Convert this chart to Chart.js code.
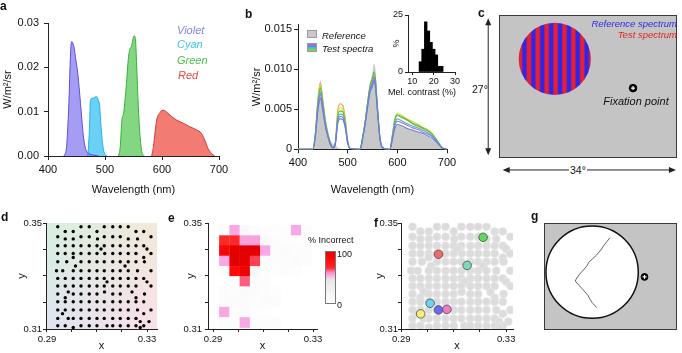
<!DOCTYPE html>
<html>
<head>
<meta charset="UTF-8">
<title>Spectra and discrimination</title>
<script src="https://cdn.jsdelivr.net/npm/chart.js"></script>
<style>
  body { margin: 0; width: 682px; height: 353px; background: #fff; position: relative; overflow: hidden;
         font-family: "Liberation Sans", Arial, Helvetica, sans-serif; color: #111; }
  canvas { position: absolute; }
  .t { position: absolute; white-space: nowrap; }
  .let { font-size: 12px; line-height: 12px; font-weight: bold; }
  .la { font-size: 11px; line-height: 13px; font-style: italic; }
  .lb { font-size: 9.5px; line-height: 11px; font-style: italic; }
  .sm { font-size: 9px; line-height: 10.5px; }
  .lc { font-size: 9.5px; line-height: 12px; font-style: italic; }
  .box { position: absolute; width: 10px; border: 1px solid #999; box-sizing: border-box; }
</style>
</head>
<body>
<canvas id="cA" width="232" height="205" style="left:0;top:0"></canvas>
<canvas id="cB" width="220" height="205" style="left:240px;top:0"></canvas>
<canvas id="cH" width="80" height="80" style="left:385px;top:5px"></canvas>
<canvas id="cC" width="220" height="180" style="left:462px;top:0"></canvas>
<canvas id="cD" width="170" height="148" style="left:0;top:205px"></canvas>
<canvas id="cE" width="185" height="148" style="left:170px;top:205px"></canvas>
<canvas id="cF" width="170" height="148" style="left:355px;top:205px"></canvas>
<canvas id="cG" width="152" height="125" style="left:530px;top:215px"></canvas>

<!-- panel letters -->
<div class="t let" style="left:0;top:0">a</div>
<div class="t let" style="left:245px;top:8px">b</div>
<div class="t let" style="left:478px;top:7px">c</div>
<div class="t let" style="left:1px;top:211px">d</div>
<div class="t let" style="left:168px;top:212px">e</div>
<div class="t let" style="left:374px;top:217px">f</div>
<div class="t let" style="left:531px;top:210px">g</div>

<!-- a legend -->
<div class="t la" style="left:177px;top:24px;color:#8682e6">Violet</div>
<div class="t la" style="left:177px;top:38px;color:#3cc6ef">Cyan</div>
<div class="t la" style="left:177px;top:54px;color:#4cc24c">Green</div>
<div class="t la" style="left:178px;top:68.5px;color:#e64545">Red</div>

<!-- b legend -->
<div class="box" style="left:307px;top:30px;height:8px;background:#c8c8c8"></div>
<div class="box" style="left:307px;top:43px;height:9px;background:linear-gradient(#c25ee0,#5a86ea 35%,#3fc8e0 55%,#5ed35e 75%,#f0a838)"></div>
<div class="t lb" style="left:322px;top:29.5px">Reference</div>
<div class="t lb" style="left:322px;top:43px">Test spectra</div>
<div class="t sm" style="left:388px;top:86.5px">Mel. contrast (%)</div>

<!-- c labels -->
<div class="t lc" style="right:5px;top:18.3px;color:#2b2be6">Reference spectrum</div>
<div class="t lc" style="right:5px;top:29.3px;color:#e52222">Test spectrum</div>
<div class="t la" style="left:603px;top:94.5px;width:66px;text-align:center">Fixation point</div>
<div class="t" style="left:472px;top:83px;font-size:10.5px;line-height:12px">27°</div>
<div class="t" style="left:569px;top:163.5px;font-size:10.5px;line-height:12px;background:#fff;padding:0 1px">34°</div>

<!-- e colour bar labels -->
<div class="t sm" style="left:308px;top:235px">% Incorrect</div>
<div class="t sm" style="left:337px;top:249px">100</div>
<div class="t sm" style="left:337px;top:299.5px">0</div>

<script>
// ---------- panel a : primaries (W/m2/sr) ----------
const violetWl  = [428, 432.6, 436.6, 439.5, 441.3, 445.3, 448.8, 452.3, 457, 461.6, 465.7, 471.5, 480, 489];
const violetVal = [0, 0.0021, 0.0119, 0.023, 0.0258, 0.0247, 0.0217, 0.0186, 0.0119, 0.0051, 0.0017, 0.0006, 0.0002, 0];
const cyanWl    = [468.6, 471, 473.3, 474.4, 477.3, 481.4, 484.9, 487.2, 490.7, 493, 496.5, 500.6, 503.5];
const cyanVal   = [0, 0.002, 0.0081, 0.0126, 0.013, 0.0132, 0.0134, 0.013, 0.0111, 0.0066, 0.0021, 0.0002, 0];
const greenWl   = [523.8, 526.7, 529.7, 532.6, 537.2, 541.3, 544.2, 546.5, 548.8, 551.2, 553.5, 555.8, 558.7, 561.6, 564.5, 568.6];
const greenVal  = [0, 0.0021, 0.0081, 0.0096, 0.0156, 0.0224, 0.0243, 0.0247, 0.0262, 0.0271, 0.0262, 0.0194, 0.0104, 0.0044, 0.001, 0];
const redWl     = [582, 584.9, 590.7, 596.5, 600, 604, 608.1, 616.9, 625.6, 637.2, 648.8, 660.5, 669.2, 675, 680.8, 686.6, 692.4];
const redVal    = [0, 0.0021, 0.0081, 0.0098, 0.0103, 0.0103, 0.0099, 0.0089, 0.0081, 0.0074, 0.0066, 0.0059, 0.0051, 0.0036, 0.0017, 0.0006, 0];

// ---------- panel b : reference + test spectra ----------
const bWl = [400,430,435,440,445,450,455,460,465,470,475,480,485,490,495,500,505,520,525,530,535,540,545,550,553,556,560,565,570,580,585,590,595,600,610,620,630,640,650,660,670,680,690,700];
const refSpec = [0,0,.0022,.0062,.0086,.0064,.0040,.0023,.0012,.0007,.0005,.0002,.0001,0,0,0,0,0,0,.0016,.0038,.0063,.0082,.0096,.0107,.0100,.0062,.0018,.0003,0,0,.0012,.0025,.0030,.0028,.0026,.0024,.0022,.0019,.0016,.0013,.0007,.0002,0];
const testOrange = [0,0,.0021,.0062,.0083,.0062,.0037,.0021,.0008,.0002,.0009,.0048,.0057,.0055,.0040,.0011,.0001,0,0,.0014,.0033,.0056,.0076,.0086,.0093,.0084,.0051,.0014,.0002,0,0,.0017,.0036,.0042,.0039,.0036,.0032,.0029,.0026,.0023,.0019,.0011,.0002,0];
const testYellow = [0,0,.0020,.0061,.0081,.0061,.0036,.0020,.0008,.0002,.0008,.0044,.0052,.0050,.0036,.0010,.0001,0,0,.0014,.0033,.0057,.0078,.0087,.0095,.0086,.0052,.0014,.0002,0,0,.0018,.0038,.0045,.0042,.0038,.0035,.0032,.0028,.0025,.0020,.0011,.0002,0];
const testGreen  = [0,0,.0019,.0058,.0077,.0058,.0035,.0019,.0008,.0002,.0007,.0041,.0048,.0047,.0034,.0010,.0001,0,0,.0015,.0034,.0058,.0080,.0089,.0097,.0087,.0053,.0015,.0002,0,0,.0017,.0037,.0043,.0040,.0037,.0033,.0030,.0027,.0024,.0019,.0011,.0002,0];
const testCyan   = [0,0,.0018,.0054,.0072,.0054,.0032,.0018,.0007,.0002,.0007,.0037,.0044,.0043,.0031,.0009,.0001,0,0,.0013,.0031,.0053,.0072,.0081,.0088,.0079,.0048,.0013,.0002,0,0,.0015,.0032,.0038,.0035,.0032,.0029,.0027,.0024,.0021,.0017,.0010,.0002,0];
const testPurple = [0,0,.0017,.0052,.0069,.0052,.0031,.0017,.0007,.0002,.0006,.0035,.0041,.0040,.0029,.0008,.0001,0,0,.0014,.0032,.0055,.0075,.0084,.0091,.0082,.0050,.0014,.0002,0,0,.0014,.0030,.0035,.0033,.0030,.0027,.0025,.0022,.0019,.0016,.0009,.0002,0];
const testBlue   = [0,0,.0016,.0048,.0064,.0048,.0029,.0016,.0006,.0002,.0006,.0032,.0038,.0037,.0027,.0008,.0001,0,0,.0013,.0030,.0052,.0071,.0079,.0086,.0077,.0047,.0013,.0002,0,0,.0012,.0026,.0031,.0029,.0026,.0024,.0022,.0020,.0017,.0014,.0008,.0002,0];

// inset histogram of melanopsin contrast
const histCenter = [13.8, 15.05, 16.3, 17.55, 18.8, 20.05, 21.3, 22.55, 23.8];
const histPct    = [4.5, 10, 22, 18, 13, 10, 7.5, 2.5, 2.5];

// ---------- panel c / g : stimulus geometry (degrees) ----------
const fixC = [25.6, 13.2];
const fixG = [25.7, 13.4];
const gPathX = [16.88, 16.2, 15.37, 14.53, 13.43, 12.27, 11.42, 11.0, 10.08, 9.07, 8.23, 7.98, 8.9, 9.9, 11.17, 11.75, 12.43, 13.1, 13.43];
const gPathY = [23.29, 22.45, 21.44, 20.18, 18.92, 17.83, 17.07, 16.22, 15.13, 14.04, 12.86, 12.35, 11.34, 10.25, 8.82, 7.81, 6.72, 6.12, 5.61];

// ---------- panel d / f : test chromaticities ----------
const dotRowY = [0.3486, 0.3468, 0.3448, 0.3440, 0.3414, 0.3402, 0.3385, 0.3370, 0.3354, 0.3338, 0.3320, 0.3291,
                 0.3278, 0.3262, 0.3240, 0.3232, 0.3218, 0.3203, 0.3172, 0.3158, 0.3140, 0.3128, 0.3112, 0.3106];
const dotRowX = [
  [0.2943, 0.3036, 0.3069, 0.3129, 0.3163, 0.3193, 0.3225],
  [0.2973, 0.3005, 0.3100, 0.3256, 0.3287],
  [0.2943, 0.3036, 0.3069, 0.3129, 0.3163, 0.3193, 0.3316],
  [0.2973, 0.3005, 0.3102, 0.3225, 0.3262],
  [0.2943, 0.2973, 0.3005, 0.3036, 0.3069, 0.3100, 0.3129, 0.3163, 0.3193, 0.3225, 0.3256, 0.3287],
  [0.3116, 0.3300],
  [0.2943, 0.2973, 0.3005, 0.3036, 0.3069, 0.3100, 0.3131, 0.3163, 0.3193, 0.3225, 0.3256, 0.3316],
  [0.3005, 0.3287],
  [0.2943, 0.2979, 0.3036, 0.3069, 0.3100, 0.3129, 0.3163, 0.3193, 0.3225, 0.3256, 0.3290],
  [0.3014, 0.3212],
  [0.2938, 0.2963, 0.3005, 0.3036, 0.3069, 0.3100, 0.3129, 0.3163, 0.3193, 0.3225, 0.3262, 0.3316],
  [0.2943, 0.2973, 0.3005, 0.3036, 0.3069, 0.3100, 0.3129, 0.3163, 0.3193, 0.3225, 0.3256, 0.3287],
  [0.3140, 0.3300],
  [0.2943, 0.2973, 0.3005, 0.3036, 0.3069, 0.3100, 0.3129, 0.3163, 0.3193, 0.3225, 0.3256, 0.3316],
  [0.2985, 0.3130, 0.3240],
  [0.2943, 0.3005, 0.3036, 0.3069, 0.3100, 0.3163, 0.3193, 0.3290],
  [0.2973, 0.3256],
  [0.2943, 0.2973, 0.3005, 0.3036, 0.3069, 0.3100, 0.3129, 0.3163, 0.3193, 0.3225, 0.3256, 0.3287],
  [0.2943, 0.2973, 0.3005, 0.3036, 0.3069, 0.3100, 0.3129, 0.3163, 0.3193, 0.3225, 0.3262, 0.3316],
  [0.2962, 0.3287],
  [0.2943, 0.2985, 0.3005, 0.3036, 0.3069, 0.3100, 0.3129, 0.3163, 0.3193, 0.3225, 0.3256],
  [0.3273, 0.3308],
  [0.2943, 0.2973, 0.3036, 0.3069, 0.3100, 0.3140, 0.3163, 0.3193, 0.3225, 0.3256, 0.3287],
  [0.3005, 0.3273]
];

// ---------- panel e : % incorrect per chromaticity bin ----------
const heatX = [0.2945, 0.2986, 0.3027, 0.3068, 0.3109, 0.3150, 0.3191, 0.3232, 0.3273];
const heatY = [0.3473, 0.3434, 0.3396, 0.3357, 0.3318, 0.3280, 0.3241, 0.3203, 0.3164, 0.3125];
const heatPct = [
  [6, 55, 14, 6, 4, 4, 4, 55, 6],
  [68, 68, 56, 56, 10, 5, 4, 3, 3],
  [90, 100, 100, 100, 55, 6, 8, 5, 5],
  [55, 100, 100, 66, 8, 5, 5, 8, 5],
  [5, 85, 95, 15, 5, 3, 5, 3, 0],
  [0, 5, 64, 5, 5, 0, 0, 0, 0],
  [8, 5, 10, 8, 5, 3, 0, 0, 0],
  [8, 8, 8, 5, 8, 5, 0, 0, 0],
  [55, 5, 8, 3, 3, 0, 0, 0, 0],
  [6, 5, 55, 5, 5, 5, 0, 0, 0]
];

// ---------- panel f : highlighted tests ----------
const pickX = [0.3212, 0.3042, 0.3151, 0.3010, 0.3042, 0.3074, 0.2974];
const pickY = [0.3446, 0.3382, 0.3340, 0.3197, 0.3172, 0.3174, 0.3157];
const pickColor = ['#62d862', '#f06a6a', '#80d8b9', '#6cd4f2', '#6a6af0', '#f07ac6', '#f4ee78'];

// ---------- common bits ----------
Chart.defaults.font.family = '"Liberation Sans", Arial, Helvetica, sans-serif';
Chart.defaults.color = '#111';

const base = (pad) => ({
  responsive: false, animation: false, devicePixelRatio: 1, events: [],
  layout: { padding: pad },
  plugins: { legend: { display: false }, tooltip: { enabled: false } }
});

function axis(o) {
  const horiz = o.pos === 'bottom';
  return {
    type: 'linear', position: o.pos, min: o.min, max: o.max, offset: false,
    grid: { display: true, offset: false, drawOnChartArea: false, drawTicks: true, tickLength: o.tl || 4, tickColor: '#222', tickWidth: 1 },
    border: { display: true, color: '#222', width: 1 },
    ticks: { autoSkip: false, maxRotation: 0, padding: o.pad ?? 2, color: '#111', font: { size: o.fs || 11 },
             callback: (v) => { const i = o.ticks.indexOf(v); return i < 0 ? '' : o.labels[i]; } },
    title: { display: !!o.title, text: o.title || '', color: '#111', font: { size: o.tfs || 11 }, padding: o.tpad || 0 },
    afterBuildTicks: (s) => { s.ticks = o.ticks.map(v => ({ value: v })); },
    afterFit: (s) => {
      if (horiz) s.height = o.size; else s.width = o.size;
      s.paddingLeft = s.paddingRight = s.paddingTop = s.paddingBottom = 0;
    }
  };
}

const hidden = (min, max) => ({ type: 'linear', display: false, min: min, max: max });

function band(xs, ys, fill, line) {
  return { data: xs.map((x, i) => ({ x: x, y: ys[i] })), fill: 'origin', backgroundColor: fill,
           borderColor: line, borderWidth: 1, pointRadius: 0, cubicInterpolationMode: 'monotone' };
}
function specLine(ys, col) {
  return { data: bWl.map((x, i) => ({ x: x, y: ys[i] })), fill: false, borderColor: col,
           borderWidth: 1.1, pointRadius: 0, cubicInterpolationMode: 'monotone', order: 1 };
}

// colour map used for the % incorrect cells and the bar
const cmapStops = [[0, [255,255,255]], [45, [232,232,232]], [55, [248,168,228]], [62, [250,118,168]],
                   [68, [255,40,40]], [85, [255,10,10]], [100, [228,0,0]]];
function pctColor(v) {
  for (let i = 1; i < cmapStops.length; i++) {
    const [v1, c1] = cmapStops[i], [v0, c0] = cmapStops[i - 1];
    if (v <= v1) {
      const f = (v - v0) / (v1 - v0);
      return 'rgb(' + c0.map((c, k) => Math.round(c + f * (c1[k] - c))).join(',') + ')';
    }
  }
  return 'rgb(228,0,0)';
}

// white cross on fixation markers
const fixPlugin = {
  id: 'fixMark',
  afterDatasetsDraw(chart) {
    const ctx = chart.ctx;
    chart.data.datasets.forEach((ds, i) => {
      if (!ds.fixMark) return;
      const p = chart.getDatasetMeta(i).data[0];
      ctx.save();
      ctx.strokeStyle = '#fff'; ctx.lineWidth = 1.2;
      ctx.beginPath();
      ctx.moveTo(p.x - 2, p.y); ctx.lineTo(p.x + 2, p.y);
      ctx.moveTo(p.x, p.y - 2); ctx.lineTo(p.x, p.y + 2);
      ctx.stroke();
      ctx.restore();
    });
  }
};

// grey screen, stimulus disc and arrows
const stimPlugin = {
  id: 'stim',
  beforeDatasetsDraw(chart, args, o) {
    const { ctx, chartArea: a, scales: { x, y } } = chart;
    ctx.save();
    ctx.fillStyle = '#c4c4c4';
    ctx.fillRect(a.left, a.top, a.width, a.height);
    ctx.strokeStyle = '#3a3a3a'; ctx.lineWidth = 1;
    ctx.strokeRect(a.left + 0.5, a.top + 0.5, a.width - 1, a.height - 1);

    const cx = x.getPixelForValue(o.disc[0]), cy = y.getPixelForValue(o.disc[1]);
    const r = x.getPixelForValue(o.disc[0] + o.disc[2]) - cx;
    ctx.beginPath(); ctx.arc(cx, cy, r, 0, Math.PI * 2);
    if (o.stripes) {
      const per = x.getPixelForValue(o.stripes) - x.getPixelForValue(0);
      const g = ctx.createLinearGradient(cx - r, 0, cx + r, 0);
      const n = 2 * r / per;
      for (let k = 0; k < n; k++) {
        const s = (t) => Math.min(1, (k + t) / n);
        g.addColorStop(s(0), '#ea1e2e'); g.addColorStop(s(0.3), '#ea1e2e');
        g.addColorStop(s(0.5), '#2c28ea'); g.addColorStop(s(0.8), '#2c28ea');
      }
      ctx.fillStyle = g; ctx.fill();
    } else {
      ctx.fillStyle = '#fff'; ctx.fill();
      ctx.strokeStyle = '#111'; ctx.lineWidth = 1.5; ctx.stroke();
    }

    if (o.arrows) {
      ctx.strokeStyle = '#222'; ctx.fillStyle = '#222'; ctx.lineWidth = 1;
      const head = (px, py, dx, dy) => {
        ctx.beginPath();
        ctx.moveTo(px, py);
        ctx.lineTo(px - dx * 7 - dy * 3, py - dy * 7 - dx * 3);
        ctx.lineTo(px - dx * 7 + dy * 3, py - dy * 7 + dx * 3);
        ctx.closePath(); ctx.fill();
      };
      const vx = x.getPixelForValue(o.arrows.vx);
      const vt = y.getPixelForValue(o.arrows.v1), vb = y.getPixelForValue(o.arrows.v0);
      ctx.beginPath(); ctx.moveTo(vx, vt + 4); ctx.lineTo(vx, vb - 4); ctx.stroke();
      head(vx, vt, 0, -1); head(vx, vb, 0, 1);
      const hy = y.getPixelForValue(o.arrows.hy);
      const hl = x.getPixelForValue(o.arrows.h0), hr = x.getPixelForValue(o.arrows.h1);
      ctx.beginPath(); ctx.moveTo(hl + 4, hy); ctx.lineTo(hr - 4, hy); ctx.stroke();
      head(hl, hy, -1, 0); head(hr, hy, 1, 0);
    }
    ctx.restore();
  }
};

// chromaticity background for d
const bgPlugin = {
  id: 'chromBg',
  beforeDraw(chart, args, o) {
    const a = chart.chartArea;
    const off = document.createElement('canvas');
    off.width = 2; off.height = 2;
    const c = off.getContext('2d');
    const img = c.createImageData(2, 2);
    [o.tl, o.tr, o.bl, o.br].forEach((col, i) => img.data.set([col[0], col[1], col[2], 255], i * 4));
    c.putImageData(img, 0, 0);
    chart.ctx.save();
    chart.ctx.imageSmoothingEnabled = true;
    chart.ctx.drawImage(off, 0.5, 0.5, 1, 1, a.left, a.top, a.width, a.height);
    chart.ctx.restore();
  }
};

// heat cells + colour bar for e
const heatPlugin = {
  id: 'heat',
  beforeDraw(chart, args, o) {
    const { ctx, scales: { x, y } } = chart;
    const hw = (heatX[1] - heatX[0]) / 2, hh = (heatY[0] - heatY[1]) / 2;
    ctx.save();
    heatPct.forEach((row, r) => row.forEach((v, c) => {
      if (v <= 0) return;
      const x0 = x.getPixelForValue(heatX[c] - hw), x1 = x.getPixelForValue(heatX[c] + hw);
      const y0 = y.getPixelForValue(heatY[r] + hh), y1 = y.getPixelForValue(heatY[r] - hh);
      ctx.fillStyle = pctColor(v);
      ctx.fillRect(x0, y0, x1 - x0 + 0.3, y1 - y0 + 0.3);
    }));
    // colour bar
    const b = o.bar;
    const g = ctx.createLinearGradient(0, b.y + b.h, 0, b.y);
    for (let v = 0; v <= 100; v += 2) g.addColorStop(v / 100, pctColor(v));
    ctx.fillStyle = g;
    ctx.fillRect(b.x, b.y, b.w, b.h);
    ctx.strokeStyle = '#777'; ctx.lineWidth = 1;
    ctx.strokeRect(b.x + 0.5, b.y + 0.5, b.w - 1, b.h - 1);
    ctx.restore();
  }
};

const xyTicksX = [0.29, 0.30, 0.31, 0.32, 0.33], xyLabX = ['0.29', '', '', '', '0.33'];
const xyTicksY = [0.31, 0.32, 0.33, 0.34, 0.35], xyLabY = ['0.31', '', '', '', '0.35'];
const dotPoints = dotRowY.flatMap((yv, i) => dotRowX[i].map(xv => ({ x: xv, y: yv })));

// ---------- a ----------
new Chart(document.getElementById('cA'), {
  type: 'line',
  data: { datasets: [
    band(violetWl, violetVal, 'rgba(125,115,238,0.7)', '#5a4fd9'),
    band(cyanWl, cyanVal, 'rgba(80,200,245,0.85)', '#1cb0e6'),
    band(greenWl, greenVal, 'rgba(100,205,100,0.8)', '#34b034'),
    band(redWl, redVal, 'rgba(240,100,90,0.85)', '#d63838')
  ] },
  options: Object.assign(base({ top: 23, right: 13, left: 0, bottom: 0 }), {
    scales: {
      x: axis({ pos: 'bottom', min: 400, max: 700, ticks: [400, 500, 600, 700], labels: ['400', '500', '600', '700'],
                size: 49, pad: 3, title: 'Wavelength (nm)', tpad: { top: 0, bottom: 8 } }),
      y: axis({ pos: 'left', min: 0, max: 0.03, ticks: [0, 0.01, 0.02, 0.03], labels: ['0.00', '0.01', '0.02', '0.03'],
                size: 48, pad: 5, title: 'W/m²/sr', tpad: { top: 1, bottom: 0 } })
    }
  })
});

// ---------- b ----------
new Chart(document.getElementById('cB'), {
  type: 'line',
  data: { datasets: [
    specLine(testBlue, '#5a84d8'),
    specLine(testPurple, '#b466e0'),
    specLine(testCyan, '#2fbfd6'),
    specLine(testGreen, '#45c245'),
    specLine(testYellow, '#d9d935'),
    specLine(testOrange, '#eea03a'),
    { data: bWl.map((x, i) => ({ x: x, y: refSpec[i] })), fill: 'origin', backgroundColor: '#c8c8c8',
      borderColor: 'rgba(0,0,0,0)', borderWidth: 0, pointRadius: 0, cubicInterpolationMode: 'monotone', order: 5 }
  ] },
  options: Object.assign(base({ top: 24.5, right: 13, left: 0, bottom: 0 }), {
    scales: {
      x: axis({ pos: 'bottom', min: 400, max: 700, ticks: [400, 500, 600, 700], labels: ['400', '500', '600', '700'],
                size: 55.7, pad: 3, title: 'Wavelength (nm)', tpad: { top: 0, bottom: 8 } }),
      y: axis({ pos: 'left', min: 0, max: 0.0156, ticks: [0, 0.005, 0.01, 0.015], labels: ['0', '0.005', '0.010', '0.015'],
                size: 58, pad: 2, title: 'W/m²/sr', tpad: { top: 10, bottom: 0 } })
    }
  })
});

// ---------- b inset ----------
new Chart(document.getElementById('cH'), {
  type: 'bar',
  data: { datasets: [{ data: histCenter.map((x, i) => ({ x: x, y: histPct[i] })), backgroundColor: '#000',
                       borderWidth: 0, barPercentage: 1, categoryPercentage: 1 }] },
  options: Object.assign(base({ top: 10, right: 10, left: 0, bottom: 0 }), {
    scales: {
      x: axis({ pos: 'bottom', min: 8, max: 30, ticks: [10, 20, 30], labels: ['10', '20', '30'], size: 13, fs: 9, tl: 3, pad: 1 }),
      y: axis({ pos: 'left', min: 0, max: 25, ticks: [0, 25], labels: ['0', '25'], size: 23, fs: 9, tl: 3, pad: 2,
                title: '%', tfs: 9, tpad: { top: 6, bottom: 0 } })
    }
  })
});

// ---------- c ----------
const optC = Object.assign(base({ left: 37, top: 15, right: 1, bottom: 22 }), { scales: { x: hidden(0, 34), y: hidden(0, 27) } });
optC.plugins.stim = { disc: [10.65, 18.7, 6.9], stripes: 1.7,
                      arrows: { vx: -2.06, v0: 0.5, v1: 26.4, hy: -2.26, h0: 0.7, h1: 33.8 } };
new Chart(document.getElementById('cC'), {
  type: 'scatter',
  data: { datasets: [{ data: [{ x: fixC[0], y: fixC[1] }], pointRadius: 3.8, backgroundColor: '#000', borderColor: '#000', fixMark: true }] },
  options: optC,
  plugins: [stimPlugin, fixPlugin]
});

// ---------- d ----------
const optD = Object.assign(base({ top: 18, right: 13, left: 0, bottom: 0 }), {
  scales: {
    x: axis({ pos: 'bottom', min: 0.2896, max: 0.334, ticks: xyTicksX, labels: xyLabX, size: 24, fs: 9.5, tl: 3, pad: 2,
              title: 'x', tpad: { top: 0, bottom: 0 } }),
    y: axis({ pos: 'left', min: 0.31, max: 0.35, ticks: xyTicksY, labels: xyLabY, size: 46, fs: 9.5, tl: 3, pad: 1,
              title: 'y', tpad: { top: 15, bottom: 0 } })
  }
});
optD.plugins.chromBg = { tl: [216, 239, 224], tr: [245, 232, 218], bl: [224, 228, 242], br: [252, 224, 232] };
new Chart(document.getElementById('cD'), {
  type: 'scatter',
  data: { datasets: [{ data: dotPoints, pointRadius: 1.7, backgroundColor: '#000', borderWidth: 0 }] },
  options: optD,
  plugins: [bgPlugin]
});

// ---------- e ----------
const optE = Object.assign(base({ top: 18, right: 38, left: 0, bottom: 0 }), {
  scales: {
    x: axis({ pos: 'bottom', min: 0.288, max: 0.3316, ticks: xyTicksX, labels: xyLabX, size: 24, fs: 9.5, tl: 3, pad: 2,
              title: 'x', tpad: { top: 0, bottom: 0 } }),
    y: axis({ pos: 'left', min: 0.31, max: 0.35, ticks: xyTicksY, labels: xyLabY, size: 38, fs: 9.5, tl: 3, pad: 3,
              title: 'y', tpad: { top: 14, bottom: 0 } })
  }
});
optE.plugins.heat = { bar: { x: 155, y: 46, w: 11, h: 53 } };
new Chart(document.getElementById('cE'), {
  type: 'scatter',
  data: { datasets: [] },
  options: optE,
  plugins: [heatPlugin]
});

// ---------- f ----------
new Chart(document.getElementById('cF'), {
  type: 'scatter',
  data: { datasets: [
    { data: pickX.map((x, i) => ({ x: x, y: pickY[i] })), pointRadius: 4.3, backgroundColor: pickColor,
      borderColor: '#4a4a4a', borderWidth: 0.8 },
    { data: dotPoints, pointRadius: 4, backgroundColor: '#dcdcdc', borderColor: '#e8e8e8', borderWidth: 0.6 }
  ] },
  options: Object.assign(base({ top: 18, right: 12, left: 0, bottom: 0 }), {
    scales: {
      x: axis({ pos: 'bottom', min: 0.2899, max: 0.3326, ticks: xyTicksX, labels: xyLabX, size: 24, fs: 9.5, tl: 3, pad: 2,
                title: 'x', tpad: { top: 0, bottom: 0 } }),
      y: axis({ pos: 'left', min: 0.31, max: 0.35, ticks: xyTicksY, labels: xyLabY, size: 46, fs: 9.5, tl: 3, pad: 0,
                title: 'y', tpad: { top: 18, bottom: 0 } })
    }
  })
});

// ---------- g ----------
const optG = Object.assign(base({ left: 14, top: 8, right: 3, bottom: 10 }), { scales: { x: hidden(0, 34), y: hidden(0, 27) } });
optG.plugins.stim = { disc: [12.3, 14.6, 11.8], stripes: 0, arrows: null };
new Chart(document.getElementById('cG'), {
  type: 'scatter',
  data: { datasets: [
    { data: gPathX.map((x, i) => ({ x: x, y: gPathY[i] })), showLine: true, borderColor: '#555', borderWidth: 0.9,
      pointRadius: 0, fill: false },
    { data: [{ x: fixG[0], y: fixG[1] }], pointRadius: 3.4, backgroundColor: '#000', borderColor: '#000', fixMark: true }
  ] },
  options: optG,
  plugins: [stimPlugin, fixPlugin]
});
</script>
</body>
</html>
